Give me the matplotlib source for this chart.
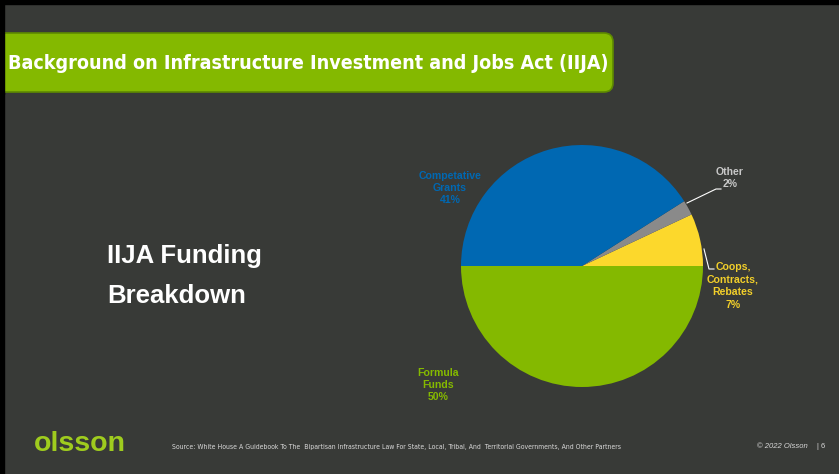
import matplotlib
matplotlib.use("Agg")
import matplotlib.pyplot as plt
from matplotlib.patches import FancyBboxPatch, Rectangle

categories = ["Formula\nFunds", "Coops,\nContracts,\nRebates", "Other", "Competative\nGrants"]
values = [50, 7, 2, 41]
colors = ["#84b900", "#fcd82c", "#8a8a8a", "#0068b2"]
label_colors = ["#84b900", "#f2cf2a", "#c8c8c8", "#0068b2"]

W, H = 839, 474
fig = plt.figure(figsize=(W / 100, H / 100), dpi=100)
fig.patch.set_facecolor("#383a37")

bg = fig.add_axes([0, 0, 1, 1])
bg.set_xlim(0, W)
bg.set_ylim(H, 0)
bg.axis("off")

# black frame edges
bg.add_patch(Rectangle((0, 0), W, 4, color="#000000", zorder=1))
bg.add_patch(Rectangle((0, 0), 4, H, color="#000000", zorder=1))

# title bar
bar = FancyBboxPatch((-10, 33), 623, 59, boxstyle="round,pad=0,rounding_size=9",
                     facecolor="#84b900", edgecolor="#5e8a00", linewidth=1.2, zorder=2)
bg.add_patch(bar)
bg.add_patch(Rectangle((0, 32), 4, 62, color="#000000", zorder=3))
title = bg.text(8, 63, "Background on Infrastructure Investment and Jobs Act (IIJA)",
                color="white", fontsize=15.5, fontweight="bold", fontstretch="condensed",
                family=["DejaVu Sans"], va="center", ha="left", zorder=4)
fig.canvas.draw()
bb = title.get_window_extent()
target = 600
if bb.width > target:
    title.set_fontsize(15.5 * target / bb.width)

# left heading
bg.text(107, 256, "IIJA Funding", color="white", fontsize=18.5, fontweight="bold",
        family=["Liberation Sans", "DejaVu Sans"], va="center", ha="left")
bg.text(107, 296, "Breakdown", color="white", fontsize=18.5, fontweight="bold",
        family=["Liberation Sans", "DejaVu Sans"], va="center", ha="left")

# footer
bg.text(34, 444, "olsson", color="#9fcc1e", fontsize=20.5, fontweight="bold",
        family=["Liberation Sans", "DejaVu Sans"], va="center", ha="left")
src = bg.text(172, 447, "Source: White House A Guidebook To The  Bipartisan Infrastructure Law For State, Local, Tribal, And  Territorial Governments, And Other Partners",
              color="#d8d8d8", fontsize=4.6, fontstretch="condensed",
              family=["DejaVu Sans"], va="center", ha="left")
fig.canvas.draw()
sb = src.get_window_extent()
if abs(sb.width - 449) > 5:
    src.set_fontsize(4.6 * 449 / sb.width)
bg.text(757, 446, "\u00a9 2022 Olsson", color="#d8d8d8", fontsize=5.5, style="italic",
        family=["Liberation Sans", "DejaVu Sans"], va="center", ha="left")
bg.text(817, 446, "| 6", color="#d8d8d8", fontsize=5.5,
        family=["Liberation Sans", "DejaVu Sans"], va="center", ha="left")

# pie
cx, cy, r = 582, 266, 121
pax = fig.add_axes([(cx - r) / W, (H - cy - r) / H, 2 * r / W, 2 * r / H])
pax.pie(values, colors=colors, startangle=180, counterclock=True,
        wedgeprops=dict(linewidth=0))
pax.set_aspect("equal")
pax.set_xlim(-1, 1)
pax.set_ylim(-1, 1)
pax.axis("off")

# labels (pixel positions in background axes)
lab_pos = [(438, 385), (733, 286), (730, 178), (450, 188)]
for name, v, col, (x, y) in zip(categories, values, label_colors, lab_pos):
    bg.text(x, y, f"{name}\n{v}%", color=col, fontsize=7.6, fontweight="bold",
            family=["Liberation Sans", "DejaVu Sans"], ha="center", va="center",
            linespacing=1.3, zorder=5)

# leader lines
bg.plot([687, 716, 721], [203, 189, 189], color="white", lw=0.8, zorder=5)
bg.plot([704, 709, 714], [249, 269, 269], color="white", lw=0.8, zorder=5)

fig.savefig("out.png", dpi=100, facecolor=fig.get_facecolor())
